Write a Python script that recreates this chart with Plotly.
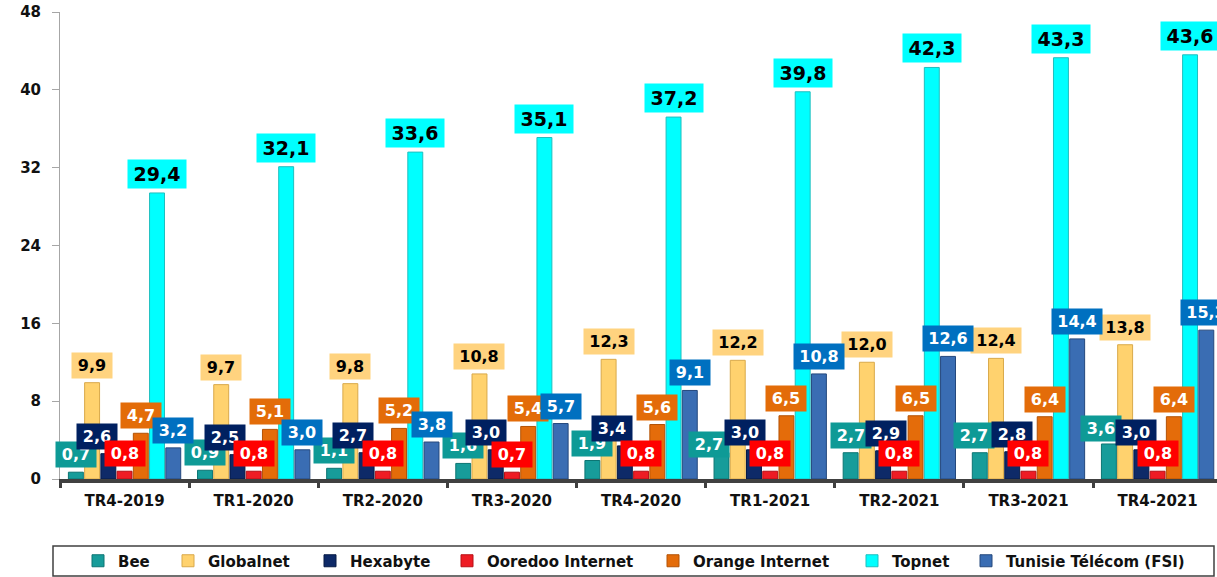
import plotly.graph_objects as go

# ---------------- data ----------------
quarters = ["TR4-2019", "TR1-2020", "TR2-2020", "TR3-2020", "TR4-2020",
            "TR1-2021", "TR2-2021", "TR3-2021", "TR4-2021"]
bee = [0.7, 0.9, 1.1, 1.6, 1.9, 2.7, 2.7, 2.7, 3.6]
globalnet = [9.9, 9.7, 9.8, 10.8, 12.3, 12.2, 12.0, 12.4, 13.8]
hexabyte = [2.6, 2.5, 2.7, 3.0, 3.4, 3.0, 2.9, 2.8, 3.0]
ooredoo = [0.8, 0.8, 0.8, 0.7, 0.8, 0.8, 0.8, 0.8, 0.8]
orange = [4.7, 5.1, 5.2, 5.4, 5.6, 6.5, 6.5, 6.4, 6.4]
topnet = [29.4, 32.1, 33.6, 35.1, 37.2, 39.8, 42.3, 43.3, 43.6]
tunisie_telecom = [3.2, 3.0, 3.8, 5.7, 9.1, 10.8, 12.6, 14.4, 15.3]

series_names = ["Bee", "Globalnet", "Hexabyte", "Ooredoo Internet",
                "Orange Internet", "Topnet", "Tunisie Télécom (FSI)"]
series_values = [bee, globalnet, hexabyte, ooredoo, orange, topnet, tunisie_telecom]
y_ticks = [0, 8, 16, 24, 32, 40, 48]

# ---------------- styles ----------------
FONT = "DejaVu Sans"
styles = [
    dict(bar="#179C9A", line="#0C7573", label="#0E9A96", text="white", size=16),
    dict(bar="#FFD26E", line="#D9A94A", label="#FFD37F", text="black", size=16),
    dict(bar="#0E2A68", line="#061A45", label="#002060", text="white", size=16),
    dict(bar="#EE1C24", line="#B80F15", label="#FF0000", text="white", size=16),
    dict(bar="#E46C0A", line="#B35205", label="#E36C09", text="white", size=16),
    dict(bar="#00FFFF", line="#1FBFBF", label="#00FFFF", text="black", size=19),
    dict(bar="#3A6DB3", line="#24487D", label="#0070C0", text="white", size=16),
]
# manual label placement nudges (pixels), as the labels were moved in the source
label_dx = {
    "Bee": [0, 0, 0, 0, 0, -13, 0, -6, -8],
    "Hexabyte": [-11, -12, -14, -10, -13, -9, 3, 0, -5],
}
label_dy = {
    "Bee": [0, 0, 0, 0, 0, -9, 0, 0, -2],
}

W, H = 1217, 577
ML, MR, MT, MB = 60, 0, 12, 98
PW = W - ML - MR
PH = H - MT - MB


def paper_x(px):
    return (px - ML) / PW


def paper_y(py):
    return (H - MB - py) / PH


BARGAP = 0.12
GROUPGAP = 0.08
N = len(series_names)
slot = (1 - BARGAP) / N

# legend symbol left edges (pixels) in the reference
legend_px = [96, 186, 328, 465, 671, 870, 984]

fig = go.Figure()
layout_legends = {}
for j, (name, vals, st) in enumerate(zip(series_names, series_values, styles)):
    lg = "legend" if j == 0 else f"legend{j + 1}"
    fig.add_trace(go.Bar(
        x=quarters, y=vals, name=name,
        marker=dict(color=st["bar"], line=dict(color=st["line"], width=1)),
        legend=lg, showlegend=True,
    ))
    layout_legends[lg] = dict(
        x=paper_x(legend_px[j] - 18), xanchor="left",
        y=paper_y(561), yanchor="middle",
        orientation="h", bgcolor="rgba(0,0,0,0)", borderwidth=0,
        font=dict(family=FONT, size=15, color="#111111", weight="bold"),
    )
    dxs = label_dx.get(name, [0] * len(vals))
    dys = label_dy.get(name, [0] * len(vals))
    for i, v in enumerate(vals):
        xc = i - (1 - BARGAP) / 2 + (j + 0.5) * slot
        txt = f"{v:.1f}".replace(".", ",")
        big = st["size"] > 16
        fig.add_annotation(
            x=xc, y=v, xref="x", yref="y",
            text=f"<b>{txt}</b>", showarrow=False,
            yanchor="bottom", yshift=4 + dys[i], xshift=dxs[i],
            bgcolor=st["label"], borderpad=3,
            width=(13 * len(txt)) if big else (10 * len(txt) + 4),
            font=dict(family=FONT, size=st["size"], color=st["text"]),
        )

fig.update_layout(
    width=W, height=H,
    margin=dict(l=ML, r=MR, t=MT, b=MB, autoexpand=False),
    paper_bgcolor="white", plot_bgcolor="white",
    barmode="group", bargap=BARGAP, bargroupgap=GROUPGAP,
    font=dict(family=FONT, color="#111111"),
    showlegend=True,
    **layout_legends,
)

fig.update_xaxes(
    type="category", range=[-0.5, 8.46],
    tickson="boundaries", ticks="outside", ticklen=5, tickwidth=3,
    tickcolor="#404040", showline=True, linecolor="#404040", linewidth=4,
    tickfont=dict(family=FONT, size=15, color="#111111", weight="bold"),
    ticklabelstandoff=5, showgrid=False,
)
fig.update_yaxes(
    range=[0, 48], tickvals=y_ticks, ticks="outside", ticklen=7, tickwidth=1,
    tickcolor="#A6A6A6", showline=True, linecolor="#A6A6A6", linewidth=1,
    showgrid=False, zeroline=False,
    tickfont=dict(family=FONT, size=15, color="#111111", weight="bold"),
    ticklabelstandoff=8,
)

# legend frame
fig.add_shape(
    type="rect", xref="paper", yref="paper",
    x0=paper_x(53), x1=paper_x(1214), y0=paper_y(576), y1=paper_y(546),
    line=dict(color="#404040", width=1.5), fillcolor="rgba(0,0,0,0)", layer="below",
)

fig.write_html(
    "out.html",
    config={"displayModeBar": False},
    post_script="document.body.style.margin='0';document.body.style.overflow='hidden';",
)
